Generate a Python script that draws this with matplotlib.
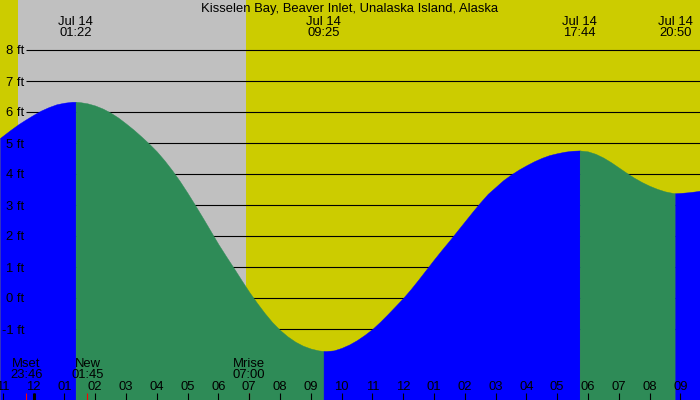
#!/usr/bin/env python3
# -*- coding: utf-8 -*-
"""
Tide chart for Kisselen Bay, Jul 14 (night / day background, rising tide
blue, falling tide green)
"""

import matplotlib
matplotlib.use('Agg')
import matplotlib.pyplot as plt
import matplotlib.transforms as mtransforms
import numpy as np


title = "Kisselen Bay, Beaver Inlet, Unalaska Island, Alaska"

# tide height: hours after midnight Jul 14 / feet
tide_hours = [-1.09, -1.0, -0.75, -0.5, -0.25, 0.0, 0.25, 0.5, 0.75, 1.0,
              1.25, 1.367,
              1.5, 1.75, 2.0, 2.25, 2.5, 2.75, 3.0, 3.25, 3.5, 3.75, 4.0,
              4.25, 4.5, 4.75, 5.0, 5.25, 5.5, 5.75, 6.0, 6.25, 6.5, 6.75,
              7.0, 7.25, 7.5, 7.75, 8.0, 8.25, 8.5, 8.75, 9.0, 9.25, 9.417,
              9.5, 9.75, 10.0, 10.25, 10.5, 10.75, 11.0, 11.25, 11.5, 11.75,
              12.0, 12.25, 12.5, 12.75, 13.0, 13.25, 13.5, 13.75, 14.0,
              14.25, 14.5, 14.75, 15.0, 15.25, 15.5, 15.75, 16.0, 16.25,
              16.5, 16.75, 17.0, 17.25, 17.5, 17.733,
              18.0, 18.25, 18.5, 18.75, 19.0, 19.25, 19.5, 19.75, 20.0,
              20.25, 20.5, 20.75, 20.833,
              21.0, 21.25, 21.5, 21.64]
tide_ft = [5.16, 5.23, 5.42, 5.6, 5.76, 5.91, 6.05, 6.16, 6.25, 6.3,
           6.33, 6.33,
           6.32, 6.28, 6.21, 6.11, 5.98, 5.82, 5.63, 5.43, 5.21, 4.98, 4.73,
           4.44, 4.12, 3.77, 3.39, 2.99, 2.58, 2.16, 1.74, 1.35, 0.97, 0.58,
           0.2, -0.15, -0.48, -0.78, -1.03, -1.24, -1.41, -1.54, -1.63,
           -1.69, -1.71,
           -1.71, -1.69, -1.61, -1.5, -1.36, -1.19, -1.0, -0.77, -0.52,
           -0.26, 0.0, 0.29, 0.6, 0.92, 1.24, 1.55, 1.85, 2.16, 2.47, 2.78,
           3.08, 3.36, 3.58, 3.8, 3.98, 4.14, 4.28, 4.41, 4.52, 4.61, 4.67,
           4.72, 4.75, 4.76,
           4.73, 4.65, 4.53, 4.38, 4.21, 4.04, 3.88, 3.74, 3.62, 3.52, 3.44,
           3.39, 3.38,
           3.39, 3.41, 3.44, 3.46]

# high and low tides
extreme_hours = [1.367, 9.417, 17.733, 20.833]
extreme_times = ["01:22", "09:25", "17:44", "20:50"]
extreme_date = "Jul 14"

# moon events
moon_hours = [-0.233, 1.75, 7.0]
moon_names = ["Mset", "New", "Mrise"]
moon_times = ["23:46", "01:45", "07:00"]

# night (sunset .. sunrise)
sunset_hour = -0.5
sunrise_hour = 6.9

ft_levels = [-1, 0, 1, 2, 3, 4, 5, 6, 7, 8]
hour_ticks = list(range(-1, 22))
hour_labels = ["11", "12", "01", "02", "03", "04", "05", "06", "07", "08",
               "09", "10", "11", "12", "01", "02", "03", "04", "05", "06",
               "07", "08", "09"]


# layout in pixels
W, H = 700, 400
X0, PX_HOUR = 33.5, 30.8      # x pixel of midnight, pixels per hour
Y0, PX_FT = 298.0, 31.0       # y pixel of 0 ft, pixels per foot

YELLOW = "#cccc00"
GRAY = "#c0c0c0"
BLUE = "#0000ff"
GREEN = "#2e8b57"
FS = 9.4

plt.rcParams['font.family'] = ['Liberation Sans', 'DejaVu Sans']


def fy(py):
    '''pixel row -> axes fraction'''
    return 1 - py / H


fig = plt.figure(figsize=(W / 100, H / 100), dpi=100)
fig.patch.set_facecolor(YELLOW)
ax = fig.add_axes([0, 0, 1, 1])
ax.set_axis_off()

xlim = (-X0 / PX_HOUR, (W - X0) / PX_HOUR)
ylim = ((Y0 - H) / PX_FT, Y0 / PX_FT)
ax.set_xlim(xlim)
ax.set_ylim(ylim)

x_trans = mtransforms.blended_transform_factory(ax.transData, ax.transAxes)
y_trans = mtransforms.blended_transform_factory(ax.transAxes, ax.transData)

# night
ax.axvspan(sunset_hour, sunrise_hour, color=GRAY, lw=0, zorder=0)

# grid lines
ax.hlines(ft_levels, (26 - X0) / PX_HOUR, xlim[1], color="black",
          lw=0.8, zorder=1)

# tide, split at highs and lows
t = np.array(tide_hours)
h = np.array(tide_ft)
bounds = [tide_hours[0]] + extreme_hours + [tide_hours[-1]]
for a, b in zip(bounds[:-1], bounds[1:]):
    m = (t >= a - 1e-6) & (t <= b + 1e-6)
    rising = h[m][-1] > h[m][0]
    col = BLUE if rising else GREEN
    ax.fill_between(t[m], h[m], ylim[0], color=col, lw=0.3, edgecolor=col,
                    zorder=2)

# y labels
for ft in ft_levels:
    ax.text(24 / W, ft - 4.5 / PX_FT, f"{ft} ft", transform=y_trans,
            ha="right", va="baseline", fontsize=FS, zorder=4)

# title and tide times
ax.text(0.5, fy(12), title, transform=ax.transAxes, ha="center",
        va="baseline", fontsize=FS, zorder=4)
for xh, s in zip(extreme_hours, extreme_times):
    ax.text(xh, fy(25), extreme_date, transform=x_trans, ha="center",
            va="baseline", fontsize=FS, zorder=4)
    ax.text(xh, fy(36), s, transform=x_trans, ha="center",
            va="baseline", fontsize=FS, zorder=4)

# moon events
for xh, name, s in zip(moon_hours, moon_names, moon_times):
    ax.text(xh, fy(367), name, transform=x_trans, ha="center",
            va="baseline", fontsize=FS, zorder=4)
    ax.text(xh, fy(378), s, transform=x_trans, ha="center",
            va="baseline", fontsize=FS, zorder=4)
ax.vlines(moon_hours, 0, fy(393), transform=x_trans, color="red",
          lw=0.8, zorder=4)

# hour ticks
ax.vlines(hour_ticks, 0, fy(393), transform=x_trans, color="black",
          lw=0.8, zorder=4)
ax.vlines([0], 0, fy(393), transform=x_trans, color="black",
          lw=2.2, zorder=4)
for xh, s in zip(hour_ticks, hour_labels):
    ax.text(xh, fy(389.5), s, transform=x_trans, ha="center",
            va="baseline", fontsize=FS, zorder=4)

fig.savefig("out.png", dpi=100, facecolor=fig.get_facecolor())
